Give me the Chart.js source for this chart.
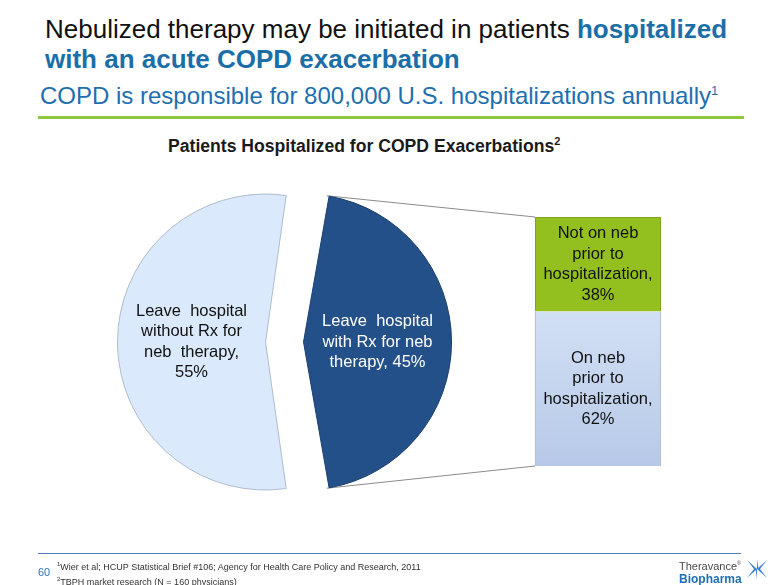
<!DOCTYPE html>
<html>
<head>
<meta charset="utf-8">
<script src="https://cdn.jsdelivr.net/npm/chart.js@4.4.1/dist/chart.umd.min.js"></script>
<style>
  body { margin: 0; background: #fff; font-family: "Liberation Sans", Arial, sans-serif; }
  #slide { position: relative; width: 780px; height: 585px; overflow: hidden; background: #fff; }
  .abs { position: absolute; }
  #title { left: 45px; top: 14px; font-size: 26px; line-height: 30px; color: #111; white-space: nowrap; }
  #title b { color: #1b6fa8; }
  #sub { left: 40px; top: 82px; font-size: 24px; color: #1e6fb0; white-space: nowrap; }
  #sub sup { font-size: 13px; }
  #rule { left: 38px; top: 116px; width: 706px; height: 3px; background: #8dc63f; }
  #ctitle { left: 168px; top: 135px; font-weight: bold; font-size: 17.6px; color: #1a1a1a; white-space: nowrap; }
  #ctitle sup { font-size: 11px; }
  #foot { left: 38px; top: 553px; width: 703px; height: 1px; background: #4f81bd; }
  #page { left: 38px; top: 566px; font-size: 11px; color: #2e75b6; }
  #notes { left: 57px; top: 559px; font-size: 9px; line-height: 11.5px; color: #333; white-space: nowrap; }
  #notes sup { font-size: 6px; }
  #logo { left: 679px; top: 557px; line-height: 12px; white-space: nowrap; }
  #logo .t1 { font-size: 11px; color: #4a4a4a; }
  #logo .t2 { font-size: 12px; font-weight: bold; color: #1f6fb5; }
  #star { left: 746px; top: 558px; }
</style>
</head>
<body>
<div id="slide">
  <div id="title" class="abs">Nebulized therapy may be initiated in patients <b>hospitalized<br>with an acute COPD exacerbation</b></div>
  <div id="sub" class="abs">COPD is responsible for 800,000 U.S. hospitalizations annually<sup>1</sup></div>
  <div id="rule" class="abs"></div>
  <div id="ctitle" class="abs">Patients Hospitalized for COPD Exacerbations<sup>2</sup></div>

  <canvas id="links" class="abs" width="780" height="585" style="left:0;top:0"></canvas>
  <canvas id="pie" class="abs" width="356" height="356" style="left:103px;top:164px"></canvas>
  <canvas id="bar" class="abs" width="200" height="249" style="left:498px;top:217px"></canvas>

  <div id="foot" class="abs"></div>
  <div id="page" class="abs">60</div>
  <div id="notes" class="abs"><sup>1</sup>Wier et al; HCUP Statistical Brief #106; Agency for Health Care Policy and Research, 2011<br><sup>2</sup>TBPH market research (N = 160 physicians)</div>
  <div id="logo" class="abs"><span class="t1">Theravance<sup style="font-size:5px">®</sup></span><br><span class="t2">Biopharma</span></div>
  <svg id="star" class="abs" width="22" height="22" viewBox="0 0 22 22">
    <g fill="#3f7fcf">
      <polygon points="11,11 1,2 8,11"/><polygon points="11,11 21,2 14,11"/>
      <polygon points="11,11 1,20 8,11"/><polygon points="11,11 21,20 14,11"/>
      <polygon points="11,11 11,1 12.5,11"/><polygon points="11,11 11,21 9.5,11"/>
    </g>
  </svg>
</div>

<script>
// pie: patients leaving hospital
const pieCategories = ['Leave hospital with Rx for neb therapy', 'Leave hospital without Rx for neb therapy'];
const pieValues = [45, 55];
const pieLines = [
  ['Leave  hospital', 'with Rx for neb', 'therapy, 45%'],
  ['Leave  hospital', 'without Rx for', 'neb  therapy,', '55%']
];

// bar: breakdown of the 45% slice
const barCategories = ['Rx for neb therapy'];
const barSeries = ['On neb prior to hospitalization', 'Not on neb prior to hospitalization'];
const onNebValues = [62];
const notOnNebValues = [38];
const barLines = [
  ['On neb', 'prior to', 'hospitalization,', '62%'],
  ['Not on neb', 'prior to', 'hospitalization,', '38%']
];

const labelFont = '16.5px "Liberation Sans", Arial, sans-serif';

// chart.js v4 shifts an arc by offset/4 and grows its radius by offset/4 * (1 - sin(circumference))
function shift(arc) {
  return (arc.options.offset || 0) / 4;
}
function radius(arc) {
  const circ = arc.endAngle - arc.startAngle;
  return arc.outerRadius + shift(arc) * (1 - Math.sin(Math.min(Math.PI, circ)));
}

function drawLines(ctx, lines, x, y, color) {
  ctx.save();
  ctx.font = labelFont;
  ctx.fillStyle = color;
  ctx.textAlign = 'center';
  ctx.textBaseline = 'middle';
  const lh = 20.5;
  const top = y - (lines.length - 1) * lh / 2;
  lines.forEach((t, k) => ctx.fillText(t, x, top + k * lh));
  ctx.restore();
}

const sliceText = {
  id: 'sliceText',
  afterDatasetsDraw(chart) {
    chart.getDatasetMeta(0).data.forEach((arc, i) => {
      const mid = (arc.startAngle + arc.endAngle) / 2;
      const d = shift(arc) + radius(arc) / 2;
      const cx = arc.x + Math.cos(mid) * d;
      const cy = arc.y + Math.sin(mid) * d;
      drawLines(chart.ctx, pieLines[i], cx, cy, i === 0 ? '#ffffff' : '#111111');
    });
  }
};

const barText = {
  id: 'barText',
  afterDatasetsDraw(chart) {
    chart.data.datasets.forEach((ds, i) => {
      const b = chart.getDatasetMeta(i).data[0];
      drawLines(chart.ctx, barLines[i], b.x, (b.y + b.base) / 2, '#111111');
    });
  }
};

const pieChart = new Chart(document.getElementById('pie'), {
  type: 'pie',
  data: {
    labels: pieCategories,
    datasets: [{
      data: pieValues,
      backgroundColor: ['#24508a', '#dae9fb'],
      borderColor: ['#1b3f6e', '#aebccc'],
      borderWidth: 1,
      offset: [90, 62]
    }]
  },
  options: {
    responsive: false,
    animation: false,
    rotation: 9,
    events: [],
    layout: { padding: 0 },
    plugins: { legend: { display: false }, tooltip: { enabled: false } }
  },
  plugins: [sliceText]
});

const barChart = new Chart(document.getElementById('bar'), {
  type: 'bar',
  data: {
    labels: barCategories,
    datasets: [
      {
        label: barSeries[0],
        data: onNebValues,
        backgroundColor: function (c) {
          const area = c.chart.chartArea;
          if (!area) return '#d3e1f6';
          const g = c.chart.ctx.createLinearGradient(0, area.top, 0, area.bottom);
          g.addColorStop(0, '#e2eefc');
          g.addColorStop(1, '#b7c9e8');
          return g;
        },
        borderColor: '#b3bfcc',
        borderWidth: 1
      },
      {
        label: barSeries[1],
        data: notOnNebValues,
        backgroundColor: '#93c01f',
        borderColor: '#7fa61a',
        borderWidth: 1
      }
    ]
  },
  options: {
    responsive: false,
    animation: false,
    events: [],
    layout: { padding: 0 },
    datasets: { bar: { barPercentage: 0.63, categoryPercentage: 1 } },
    scales: {
      x: { stacked: true, display: false },
      y: { stacked: true, display: false, min: 0, max: 100 }
    },
    plugins: { legend: { display: false }, tooltip: { enabled: false } }
  },
  plugins: [barText]
});

// connector lines from the dark slice to the bar
(function drawLinks() {
  const links = document.getElementById('links');
  const ctx = links.getContext('2d');
  const base = links.getBoundingClientRect();
  const pr = pieChart.canvas.getBoundingClientRect();
  const br = barChart.canvas.getBoundingClientRect();
  const arc = pieChart.getDatasetMeta(0).data[0];
  const mid = (arc.startAngle + arc.endAngle) / 2;
  const r = radius(arc);
  const ox = arc.x + Math.cos(mid) * shift(arc) + pr.left - base.left;
  const oy = arc.y + Math.sin(mid) * shift(arc) + pr.top - base.top;
  const p1 = [ox + Math.cos(arc.startAngle) * r, oy + Math.sin(arc.startAngle) * r];
  const p2 = [ox + Math.cos(arc.endAngle) * r, oy + Math.sin(arc.endAngle) * r];
  const lo = barChart.getDatasetMeta(0).data[0];
  const hi = barChart.getDatasetMeta(1).data[0];
  const left = lo.x - lo.width / 2 + br.left - base.left;
  const top = hi.y + br.top - base.top;
  const bottom = lo.base + br.top - base.top;
  ctx.strokeStyle = '#8a8a8a';
  ctx.lineWidth = 1;
  ctx.beginPath();
  ctx.moveTo(p1[0], p1[1]); ctx.lineTo(left, top);
  ctx.moveTo(p2[0], p2[1]); ctx.lineTo(left, bottom);
  ctx.stroke();
})();
</script>
</body>
</html>
